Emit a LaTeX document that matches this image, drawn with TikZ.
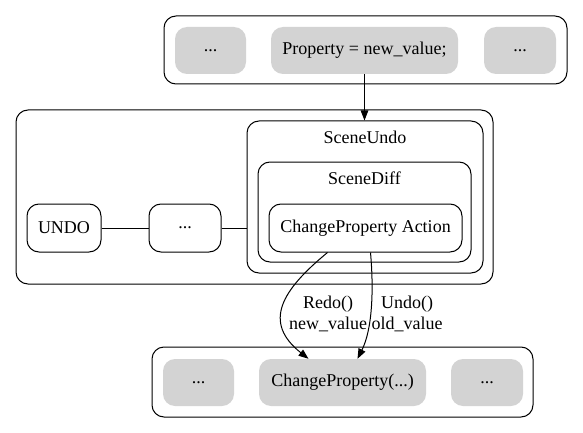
\documentclass[tikz,border=0pt]{standalone}
\usepackage{fontspec}
\setmainfont{Liberation Serif}
\usetikzlibrary{arrows.meta,positioning,calc}
\begin{document}
\begin{tikzpicture}[x=1pt,y=-1pt,
  every node/.style={font=\fontsize{18}{21}\selectfont},
  cluster/.style={draw=black,line width=1pt,rounded corners=12pt,inner sep=0pt},
  greybox/.style={fill={rgb,255:red,211;green,211;blue,211},rounded corners=12pt,inner sep=0pt},
  whitebox/.style={draw=black,line width=1pt,rounded corners=12pt,inner sep=0pt},
  conn/.style={line width=1pt},
  arr/.style={line width=1pt,-{Triangle[length=10pt,width=7.5pt]}},
  lbl/.style={align=center,inner sep=0pt}
]
\useasboundingbox (0,0) rectangle (583,433);
% top cluster
\node[cluster,minimum width=403,minimum height=68] (top) at (365.5,50) {};
\node[greybox,minimum width=71,minimum height=47] (t1) at (210.5,50.5) {...};
\node[greybox,minimum width=187,minimum height=47] (prop) at (364.5,50.5) {Property = new\_value;};
\node[greybox,minimum width=72,minimum height=47] (t3) at (520,50.5) {...};
% middle cluster
\node[cluster,minimum width=477,minimum height=174] (mid) at (254.5,197) {};
\node[cluster,minimum width=236,minimum height=152] (su) at (365,197) {};
\node[inner sep=0pt] (sulbl) at (365,137) {SceneUndo};
\node[cluster,minimum width=213,minimum height=100] (sd) at (364.5,212) {};
\node[inner sep=0pt] (sdlbl) at (364.5,178) {SceneDiff};
\node[whitebox,minimum width=193,minimum height=48] (cpa) at (365.5,228) {ChangeProperty Action};
\node[whitebox,minimum width=74,minimum height=48] (undo) at (64,228) {UNDO};
\node[whitebox,minimum width=72,minimum height=48] (dots) at (185,228) {...};
\draw[conn] (undo) -- (dots);
\draw[conn] (dots) -- (dots -| su.west);
% bottom cluster
\node[cluster,minimum width=381,minimum height=70] (bot) at (342.5,382) {};
\node[greybox,minimum width=71,minimum height=47] (b1) at (198.5,382.5) {...};
\node[greybox,minimum width=167,minimum height=47] (cp) at (342.5,382.5) {ChangeProperty(...)};
\node[greybox,minimum width=72,minimum height=47] (b3) at (487,382.5) {...};
% edges
\draw[arr] (prop.south) -- (prop.south |- su.north);
\draw[arr] ($(cpa.south)+(-38,0)$) .. controls (282,290) and (262,322) .. ($(cp.north)+(-34,0)$);
\draw[arr] ($(cpa.south)+(5,0)$) .. controls (374,292) and (372,330) .. ($(cp.north)+(15,0)$);
\node[lbl] (redolbl) at (328,314) {Redo()\\new\_value};
\node[lbl] (undolbl) at (407,314) {Undo()\\old\_value};
\end{tikzpicture}
\end{document}
